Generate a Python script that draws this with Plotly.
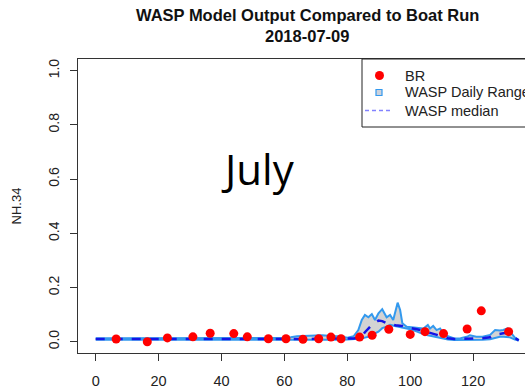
import plotly.graph_objects as go

# ---- data ----
br_x = [6.5, 16.4, 22.8, 30.9, 36.4, 43.9, 48.2, 54.9, 60.5, 65.9, 70.9,
        74.8, 78.0, 83.9, 87.9, 93.2, 100.0, 104.7, 110.6, 118.1, 122.6, 131.3]
br_y = [0.010, 0.000, 0.014, 0.018, 0.031, 0.030, 0.018, 0.011, 0.011, 0.009, 0.011,
        0.017, 0.011, 0.017, 0.024, 0.046, 0.027, 0.037, 0.030, 0.047, 0.114, 0.037]

wasp_x = [0, 4, 8, 12, 16, 20, 24, 28, 32, 36,
          40, 44, 48, 52, 56, 60, 62, 64, 66, 68,
          70, 72, 74, 76, 78, 80, 82, 83.5, 84.6, 85.6,
          86.7, 87.8, 88.8, 89.9, 91.1, 92.5, 93.6, 94.6, 95.5, 96.0,
          96.8, 97.5, 98.9, 100.5, 102.1, 104.2, 105.6, 106.3, 107.3, 108.4,
          109.5, 110.5, 112, 114, 116, 118, 119, 121, 123, 125.4,
          127, 128.5, 129.6, 130.9, 131.7, 133.3, 134.5]
wasp_max = [0.013, 0.013, 0.013, 0.013, 0.012, 0.012, 0.013, 0.014, 0.014, 0.014,
            0.014, 0.014, 0.014, 0.013, 0.013, 0.014, 0.016, 0.020, 0.021, 0.022,
            0.024, 0.024, 0.022, 0.021, 0.019, 0.015, 0.020, 0.043, 0.080, 0.099,
            0.090, 0.102, 0.080, 0.105, 0.120, 0.090, 0.099, 0.080, 0.117, 0.144,
            0.117, 0.068, 0.055, 0.054, 0.053, 0.049, 0.062, 0.049, 0.058, 0.043,
            0.049, 0.031, 0.020, 0.012, 0.013, 0.018, 0.024, 0.018, 0.018, 0.025,
            0.043, 0.041, 0.043, 0.049, 0.037, 0.015, 0.006]
wasp_min = [0.007, 0.007, 0.007, 0.006, 0.005, 0.005, 0.005, 0.005, 0.005, 0.006,
            0.006, 0.006, 0.006, 0.006, 0.006, 0.006, 0.006, 0.006, 0.006, 0.006,
            0.007, 0.007, 0.007, 0.007, 0.007, 0.008, 0.009, 0.010, 0.012, 0.015,
            0.018, 0.025, 0.032, 0.037, 0.050, 0.055, 0.062, 0.060, 0.056, 0.055,
            0.054, 0.052, 0.049, 0.045, 0.037, 0.028, 0.024, 0.022, 0.020, 0.017,
            0.014, 0.011, 0.008, 0.006, 0.006, 0.006, 0.007, 0.007, 0.007, 0.009,
            0.015, 0.018, 0.018, 0.018, 0.016, 0.008, 0.004]
wasp_med = [0.010, 0.010, 0.010, 0.009, 0.008, 0.008, 0.008, 0.008, 0.008, 0.009,
            0.009, 0.009, 0.009, 0.009, 0.009, 0.009, 0.009, 0.010, 0.010, 0.010,
            0.011, 0.011, 0.012, 0.012, 0.011, 0.011, 0.012, 0.014, 0.020, 0.035,
            0.050, 0.062, 0.068, 0.078, 0.076, 0.068, 0.066, 0.062, 0.060, 0.060,
            0.059, 0.058, 0.053, 0.050, 0.046, 0.040, 0.035, 0.033, 0.029, 0.024,
            0.021, 0.016, 0.013, 0.010, 0.010, 0.011, 0.012, 0.012, 0.013, 0.016,
            0.026, 0.030, 0.031, 0.033, 0.030, 0.014, 0.005]

x_ticks = [0, 20, 40, 60, 80, 100, 120]
y_ticks = [0.0, 0.2, 0.4, 0.6, 0.8, 1.0]
y_ticktext = ["0.0", "0.2", "0.4", "0.6", "0.8", "1.0"]

title_line1 = "WASP Model Output Compared to Boat Run"
title_line2 = "2018-07-09"
y_label = "NH.34"
overlay_text = "July"
legend_labels = ["BR", "WASP Daily Range", "WASP median"]

# ---- layout geometry (pixels) ----
W, H = 525, 391
L, R, T, B = 78, 0, 59, 38
pw, ph = W - L - R, H - T - B

def px_x(p):
    return (p - L) / pw

def px_y(p):
    return (H - B - p) / ph

FONT = "Liberation Sans, Arial, Helvetica, sans-serif"
band_col = "rgb(51,153,238)"

fig = go.Figure()
fig.add_trace(go.Scatter(x=wasp_x, y=wasp_min, mode="lines",
                         line=dict(color=band_col, width=2),
                         showlegend=False, hoverinfo="skip"))
fig.add_trace(go.Scatter(x=wasp_x, y=wasp_max, mode="lines", fill="tonexty",
                         fillcolor="rgb(211,211,211)",
                         line=dict(color=band_col, width=2),
                         name=legend_labels[1], showlegend=False))
fig.add_trace(go.Scatter(x=wasp_x, y=wasp_med, mode="lines",
                         line=dict(color="rgb(20,20,230)", width=2.5, dash="dash"),
                         name=legend_labels[2], showlegend=False))
fig.add_trace(go.Scatter(x=br_x, y=br_y, mode="markers",
                         marker=dict(color="rgb(255,0,0)", size=9),
                         name=legend_labels[0], showlegend=False))

fig.update_layout(
    width=W, height=H,
    margin=dict(l=L, r=R, t=T, b=B, autoexpand=False),
    plot_bgcolor="white", paper_bgcolor="white",
    font=dict(family=FONT, size=14, color="#222222"),
    xaxis=dict(range=[-5.63, -5.63 + pw / 3.145], tickvals=x_ticks,
               ticks="outside", ticklen=7, tickcolor="#333333",
               showline=True, linecolor="#333333", linewidth=1, mirror=True,
               showgrid=False, zeroline=False, automargin=False,
               tickfont=dict(size=14.5), ticklabelstandoff=8),
    yaxis=dict(range=[-0.0417, -0.0417 + ph / 271.0], tickvals=y_ticks,
               ticktext=y_ticktext, tickangle=-90,
               ticks="outside", ticklen=7, tickcolor="#333333",
               showline=True, linecolor="#333333", linewidth=1,
               showgrid=False, zeroline=False, automargin=False,
               tickfont=dict(size=14), ticklabelstandoff=5,
               title=dict(text=y_label, standoff=21, font=dict(size=13))),
    showlegend=False,
)

# title (two centred lines over the plot region)
fig.add_annotation(text="<b>" + title_line1 + "</b>", xref="paper", yref="paper",
                   x=px_x(307), y=px_y(15), xanchor="center", yanchor="middle",
                   showarrow=False, font=dict(size=16.5, color="#111111"))
fig.add_annotation(text="<b>" + title_line2 + "</b>", xref="paper", yref="paper",
                   x=px_x(307), y=px_y(36), xanchor="center", yanchor="middle",
                   showarrow=False, font=dict(size=16.5, color="#111111"))

# ---- legend box (runs off the right edge like the reference) ----
fig.add_shape(type="rect", xref="paper", yref="paper",
              x0=px_x(362), x1=px_x(620), y0=px_y(127), y1=px_y(59),
              line=dict(color="#222222", width=1), fillcolor="white", layer="above")
rows = [75.5, 92.5, 110.5]
# BR symbol
fig.add_shape(type="circle", xref="paper", yref="paper",
              x0=px_x(375), x1=px_x(384), y0=px_y(rows[0] + 4.5), y1=px_y(rows[0] - 4.5),
              line=dict(color="rgb(255,0,0)", width=0), fillcolor="rgb(255,0,0)", layer="above")
# daily range symbol
fig.add_shape(type="rect", xref="paper", yref="paper",
              x0=px_x(376), x1=px_x(382), y0=px_y(rows[1] + 3), y1=px_y(rows[1] - 3),
              line=dict(color=band_col, width=1.2), fillcolor="rgb(205,210,220)", layer="above")
# median symbol
fig.add_shape(type="line", xref="paper", yref="paper",
              x0=px_x(365), x1=px_x(393), y0=px_y(rows[2]), y1=px_y(rows[2]),
              line=dict(color="rgb(130,130,255)", width=1.5, dash="4px,3px"), layer="above")
for lab, ry in zip(legend_labels, rows):
    fig.add_annotation(text=lab, xref="paper", yref="paper",
                       x=px_x(403), y=px_y(ry), xanchor="left", yanchor="middle",
                       showarrow=False, font=dict(size=14.5, color="#222222"))

fig.add_annotation(text=overlay_text, xref="paper", yref="paper",
                   x=px_x(258), y=px_y(168), xanchor="center", yanchor="middle",
                   showarrow=False,
                   font=dict(family="Open Sans, Noto Sans, sans-serif", size=42, color="black"))

fig.write_html("out.html")
